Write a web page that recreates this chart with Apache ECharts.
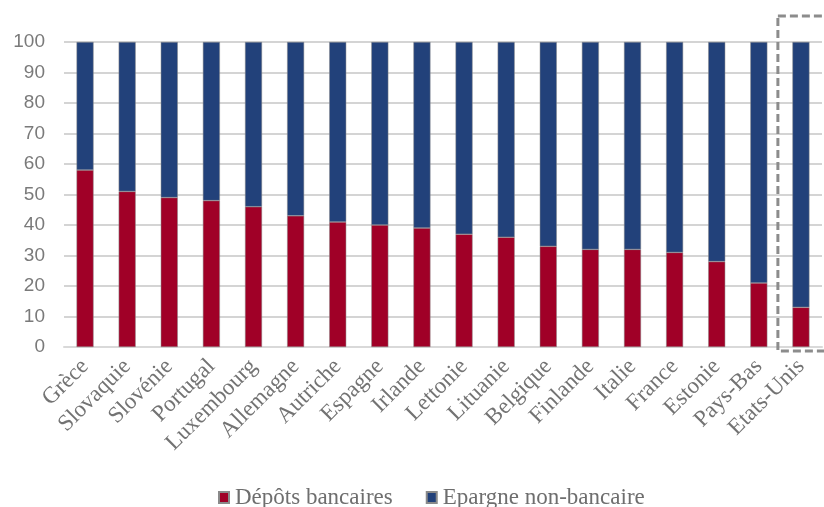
<!DOCTYPE html>
<html>
<head>
<meta charset="utf-8">
<script src="https://cdn.jsdelivr.net/npm/echarts@6/dist/echarts.min.js"></script>
<style>
  html, body { margin: 0; padding: 0; background: #fff; }
  #chart { width: 824px; height: 507px; }
</style>
</head>
<body>
<div id="chart"></div>
<script>
    const countries = ['Grèce', 'Slovaquie', 'Slovénie', 'Portugal', 'Luxembourg', 'Allemagne', 'Autriche',
        'Espagne', 'Irlande', 'Lettonie', 'Lituanie', 'Belgique', 'Finlande', 'Italie', 'France',
        'Estonie', 'Pays-Bas', 'Etats-Unis'];
    const depots = [58, 51, 49, 48, 46, 43, 41, 40, 39, 37, 36, 33, 32, 32, 31, 28, 21, 13];
    const epargne = [42, 49, 51, 52, 54, 57, 59, 60, 61, 63, 64, 67, 68, 68, 69, 72, 79, 87];
    const yTicks = [0, 10, 20, 30, 40, 50, 60, 70, 80, 90, 100];

    let myChart = echarts.init(document.getElementById('chart'));
    myChart.setOption({
        animation: false,
        grid: {
            left: 64,
            right: 2,
            top: 42,
            bottom: 160
        },
        legend: {
            top: 481,
            left: 213,
            itemWidth: 10,
            itemHeight: 11,
            itemGap: 33,
            icon: 'rect',
            textStyle: {
                color: '#6e6e6e',
                fontFamily: 'Liberation Serif',
                fontSize: 23,
                padding: [0, 0, 0, 1]
            },
            data: ['Dépôts bancaires', 'Epargne non-bancaire']
        },
        xAxis: {
            type: 'category',
            data: countries,
            axisLine: {lineStyle: {color: '#d9d9d9', width: 2}},
            axisTick: {show: false},
            axisLabel: {
                rotate: 45,
                interval: 0,
                margin: 16,
                color: '#737373',
                fontFamily: 'Liberation Serif',
                fontSize: 23
            }
        },
        yAxis: {
            type: 'value',
            min: yTicks[0],
            max: yTicks[yTicks.length - 1],
            interval: 10,
            axisLine: {show: false},
            axisTick: {show: false},
            axisLabel: {
                margin: 19,
                color: '#7a7a7a',
                fontFamily: 'Liberation Sans',
                fontSize: 19
            },
            splitLine: {lineStyle: {color: '#d4d4d4', width: 2}}
        },
        series: [
            {
                name: 'Dépôts bancaires',
                type: 'bar',
                stack: 'total',
                barWidth: 17,
                itemStyle: {color: '#A00027', borderColor: '#8a8a8a', borderWidth: 0.5},
                data: depots
            },
            {
                name: 'Epargne non-bancaire',
                type: 'bar',
                stack: 'total',
                barWidth: 17,
                itemStyle: {color: '#22417A', borderColor: '#8a8a8a', borderWidth: 0.5},
                data: epargne
            }
        ]
    });

    // cadre pointillé autour des Etats-Unis
    const last = countries.length - 1;
    const xPrev = myChart.convertToPixel({xAxisIndex: 0}, countries[last - 1]);
    const xLast = myChart.convertToPixel({xAxisIndex: 0}, countries[last]);
    const yTop = myChart.convertToPixel({yAxisIndex: 0}, 100);
    const yBot = myChart.convertToPixel({yAxisIndex: 0}, 0);
    const x0 = (xPrev + xLast) / 2 - 2;
    myChart.setOption({
        graphic: [{
            type: 'rect',
            shape: {x: x0, y: yTop - 26, width: 60, height: yBot - yTop + 30},
            style: {fill: 'none', stroke: '#8c8c8c', lineWidth: 3, lineDash: [8, 4]},
            z: 10
        }]
    });
</script>
</body>
</html>
